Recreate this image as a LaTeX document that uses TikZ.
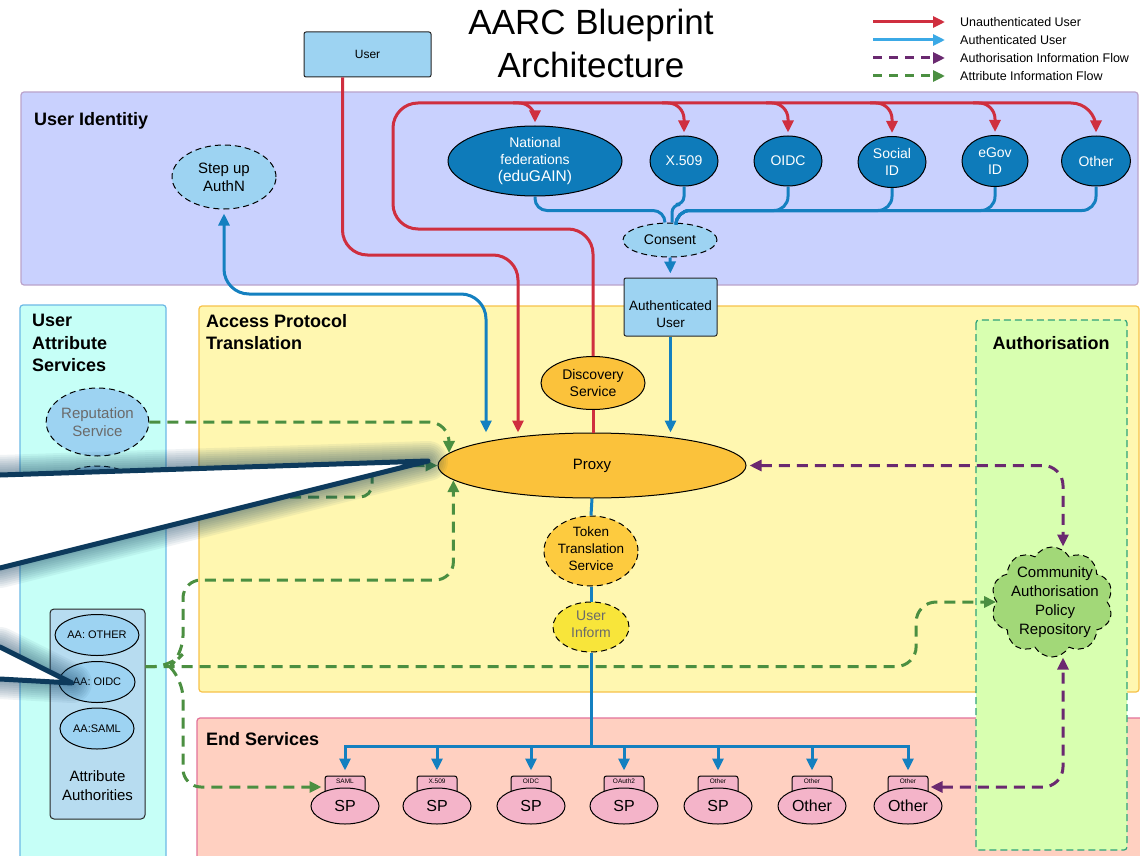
\documentclass[tikz,border=0pt]{standalone}
\usepackage{fontspec}
\setmainfont{Liberation Sans}
\usetikzlibrary{arrows.meta,shapes.geometric,shapes.symbols,calc}
\newcommand{\myfs}[2]{\fontsize{#1}{#2}\selectfont}
\definecolor{idbg}{HTML}{C9D1FE}
\definecolor{idbd}{HTML}{BBA3CB}
\definecolor{cybg}{HTML}{C6FFF7}
\definecolor{cybd}{HTML}{6DB9E6}
\definecolor{yebg}{HTML}{FFF7B0}
\definecolor{yebd}{HTML}{F7C24A}
\definecolor{esbg}{HTML}{FFD0C1}
\definecolor{esbd}{HTML}{E2739A}
\definecolor{aubg}{HTML}{D8FFB0}
\definecolor{aubd}{HTML}{2FA27A}
\definecolor{idpf}{HTML}{0E7BBA}
\definecolor{ltblue}{HTML}{9DD3F2}
\definecolor{orng}{HTML}{FBC23B}
\definecolor{ttsc}{HTML}{FDCB3F}
\definecolor{uinfc}{HTML}{F8E53A}
\definecolor{spf}{HTML}{F4B4C9}
\definecolor{cldf}{HTML}{A2D878}
\definecolor{aabox}{HTML}{B7DCF0}
\definecolor{redc}{HTML}{CF2F3F}
\definecolor{bluc}{HTML}{1480C0}
\definecolor{lblu}{HTML}{3BA9E6}
\definecolor{purc}{HTML}{6A2970}
\definecolor{grnc}{HTML}{4B8F41}
\definecolor{wedgec}{HTML}{0D3A5C}
\definecolor{graytext}{HTML}{6A6A6A}
\begin{document}
\begin{tikzpicture}[x=1pt,y=-1pt,
  region/.style={line width=1.2pt, rounded corners=3pt},
  rtitle/.style={font=\bfseries\myfs{18}{22.5}, align=left, inner sep=0pt},
  ell/.style={ellipse, draw=black, line width=1pt, inner sep=0pt, align=center},
  dashell/.style={ell, dash pattern=on 6pt off 4pt},
  idp/.style={ell, fill=idpf, text=white, font=\myfs{14}{17}},
  arr/.style={-{Triangle[length=12pt,width=11pt]}},
  darr/.style={{Triangle[length=12pt,width=11pt]}-{Triangle[length=12pt,width=11pt]}},
  redline/.style={draw=redc, line width=3pt},
  blueline/.style={draw=bluc, line width=3pt},
  greendash/.style={draw=grnc, line width=3pt, dash pattern=on 11pt off 7pt},
  purpledash/.style={draw=purc, line width=3pt, dash pattern=on 11pt off 7pt},
  sptab/.style={draw=black, line width=1pt, fill=spf, rounded corners=2.5pt, minimum width=40pt, minimum height=18pt, inner sep=0pt, font=\myfs{6.5}{7}, text height=5pt, text depth=8pt},
  spell/.style={ell, fill=spf, minimum width=68pt, minimum height=36pt, font=\myfs{16}{18}},
  lgtext/.style={anchor=west, font=\myfs{12.5}{14}, inner sep=0pt},
  boxnode/.style={draw=black!85, line width=1pt, fill=ltblue, rounded corners=2pt, inner sep=0pt, align=center}
]
\useasboundingbox (0,0) rectangle (1140,856);
\fill[white] (0,0) rectangle (1140,856);

% regions
\draw[region, draw=idbd, fill=idbg] (21,92) rectangle (1138,285);
\draw[region, draw=cybd, fill=cybg] (20,305) rectangle (166,880);
\draw[region, draw=yebd, fill=yebg] (199,306) rectangle (1139,692);
\draw[region, draw=esbd, fill=esbg] (197,718) rectangle (1160,880);
\draw[line width=1.2pt, draw=aubd, fill=aubg, dash pattern=on 7pt off 4pt, rounded corners=3pt] (976,320) rectangle (1127,850);

\node[rtitle, anchor=west] (tid) at (34,121) {User Identitiy};
\node[rtitle, anchor=north west] (tuas) at (32,314) {User\\Attribute\\Services};
\node[rtitle, anchor=north west] (tapt) at (206,314) {Access Protocol\\Translation};
\node[rtitle, anchor=west] (tes) at (206,739) {End Services};
\node[rtitle] (tau) at (1051,343) {Authorisation};

% title
\node[font=\myfs{35}{43}, align=center, inner sep=0pt] (title) at (591,43) {AARC Blueprint\\Architecture};

% legend
\node[lgtext] (lg1) at (960,22) {Unauthenticated User};
\node[lgtext] (lg2) at (960,40) {Authenticated User};
\node[lgtext] (lg3) at (960,58) {Authorisation Information Flow};
\node[lgtext] (lg4) at (960,76) {Attribute Information Flow};
\draw[redline, arr] ($(lg1.west)+(-87,0)$) -- ($(lg1.west)+(-15,0)$);
\draw[blueline, draw=lblu, arr] ($(lg2.west)+(-87,0)$) -- ($(lg2.west)+(-15,0)$);
\draw[purpledash, dash pattern=on 9pt off 7pt, arr] ($(lg3.west)+(-87,0)$) -- ($(lg3.west)+(-15,0)$);
\draw[greendash, dash pattern=on 9pt off 7pt, arr] ($(lg4.west)+(-87,0)$) -- ($(lg4.west)+(-15,0)$);

% user
\node[boxnode, minimum width=127pt, minimum height=45pt, font=\myfs{12}{14}] (user) at (367.5,54.5) {User};

% identity providers
\node[idp, minimum width=174pt, minimum height=70pt] (nf) at (535,161) {National\\federations\\{\myfs{15.5}{17}(eduGAIN)}};
\node[idp, minimum width=68pt, minimum height=50pt] (x509) at (684,161) {X.509};
\node[idp, minimum width=68pt, minimum height=50pt] (oidc) at (788,161) {OIDC};
\node[idp, minimum width=68pt, minimum height=51pt] (soc) at (892,162) {Social\\ID};
\node[idp, minimum width=66pt, minimum height=51pt] (egov) at (995,161) {eGov\\ID};
\node[idp, minimum width=69pt, minimum height=50pt] (oth) at (1096,161) {Other};

\node[dashell, fill=ltblue, minimum width=94pt, minimum height=34pt, font=\myfs{14}{16}] (con) at (670,240) {Consent};
\node[boxnode, minimum width=93pt, minimum height=58pt,
  label={[font=\myfs{13.5}{16.5}, align=center, yshift=-7pt]center:{Authenticated\\User}}] (auth) at (670.5,307) {};
\node[dashell, fill=ltblue, minimum width=104pt, minimum height=64pt, font=\myfs{15}{18}] (stepup) at (224,177) {Step up\\AuthN};

% access protocol translation
\node[ell, fill=orng, minimum width=104pt, minimum height=53pt, font=\myfs{14}{17}] (disc) at (593,383) {Discovery\\Service};
\node[ell, fill=orng, minimum width=308pt, minimum height=65pt, font=\myfs{15}{18}] (prx) at (592,465.5) {Proxy};
\node[dashell, fill=ttsc, minimum width=94pt, minimum height=70pt,
  label={[font=\myfs{13.5}{17}, align=center, yshift=2pt]center:{Token\\Translation\\Service}}] (tts) at (591,551) {};
\node[dashell, fill=uinfc, minimum width=76pt, minimum height=50pt,
  label={[font=\myfs{14}{17}, align=center, text=graytext, yshift=3pt]center:{User\\Inform}}] (uinf) at (591,627) {};

% attribute services
\node[dashell, fill=ltblue, minimum width=96pt, minimum height=68pt, font=\myfs{15}{18}, text=graytext] (rep) at (97.5,422) {Reputation\\Service};
\node[dashell, fill=ltblue, minimum width=96pt, minimum height=62pt] (hid) at (97.5,497) {};
\node[draw=black!85, line width=1pt, fill=aabox, rounded corners=4pt, minimum width=95pt, minimum height=210pt, inner sep=0pt] (aa) at (97.5,714) {};
\node[ell, fill=ltblue, minimum width=78pt, minimum height=41pt, font=\myfs{11}{13}] (aaoth) at (97,635) {AA: OTHER};
\node[ell, fill=ltblue, minimum width=76pt, minimum height=41pt, font=\myfs{11}{13}] (aaoidc) at (97,682) {AA: OIDC};
\node[ell, fill=ltblue, minimum width=74pt, minimum height=41pt, font=\myfs{11}{13}] (aasaml) at (97,728.5) {AA:SAML};
\node[font=\myfs{15}{19}, align=center, inner sep=0pt] (aalbl) at (97.5,786) {Attribute\\Authorities};
\coordinate (aaout) at ($(aa.north east)+(0,58)$);

% authorisation
\node[cloud, cloud puffs=10, cloud puff arc=120, draw=black, line width=1pt, dash pattern=on 6pt off 4pt, fill=cldf, minimum width=122pt, minimum height=110pt, inner sep=0pt,
  label={[font=\myfs{15}{19}, align=center, xshift=3pt]center:{Community\\Authorisation\\Policy\\Repository}}] (cloud) at (1052,602) {};

% end services
\foreach \i/\x/\t/\s in {1/345/SAML/SP, 2/437/X.509/SP, 3/531/OIDC/SP, 4/624/OAuth2/SP, 5/718/Other/SP, 6/812/Other/Other, 7/908/Other/Other} {
  \node[sptab] (tab\i) at (\x,785) {\t};
  \node[spell] (sp\i) at (\x,806) {\s};
}

% ---- connectors ----
% unauthenticated (red)
\draw[redline, arr, rounded corners=25pt] ($(user.south west)+(39,0)$) |- (518,255) -- (518,0 |- prx.north);
\draw[redline] (disc.south) -- (disc.south |- prx.north);
\draw[redline, arr, rounded corners=25pt, shorten >=3pt] (disc.north) -- (disc.north |- 0,229) -- (393,229) -- (393,103) -| (oth.north);
\foreach \n in {nf,x509,oidc,soc,egov} {
  \draw[redline, arr, rounded corners=16pt, shorten >=3pt] ($(\n.north |- 0,103)+(-22,0)$) -| (\n.north);
}

% authenticated (blue)
\draw[blueline, rounded corners=12pt] (nf.south) |- ($(con.north)+(-5,-12)$) -- ($(con.north)+(-5,0)$);
\draw[blueline, rounded corners=8pt] (x509.south) -- ($(x509.south)+(0,18)$) -| ($(con.north)+(2,0)$);
\foreach \n in {oidc,soc,egov,oth} {
  \draw[blueline, rounded corners=14pt] (\n.south) |- ($(con.north)+(6,-12)$) -- ($(con.north)+(6,0)$);
}
\draw[blueline, arr, shorten >=4pt] (con.south) -- (auth.north);
\draw[blueline, arr] (auth.south) -- (auth.south |- prx.north);
\draw[blueline, darr, rounded corners=25pt, shorten <=4pt] (stepup.south) |- (486,294) -- (486,0 |- prx.north);
\draw[blueline] (prx.south) -- (tts.north);
\draw[blueline] (tts.south) -- (uinf.north);
\draw[blueline] (uinf.south) -- (uinf.south |- 0,746);
\draw[blueline, line cap=rect] (tab1.north |- 0,746) -- (tab7.north |- 0,746);
\foreach \i in {1,...,7} {
  \draw[blueline, arr, shorten >=5pt] (tab\i.north |- 0,746) -- (tab\i.north);
}

% attribute information (green)
\draw[greendash, arr, rounded corners=20pt] (rep.east) -| (prx.175);
\draw[greendash, arr, rounded corners=12pt] (hid.east) -- (372,497) -- (372,466) -- (prx.west);
\draw[greendash, arr, rounded corners=18pt] (aaout) -- (170,667) -- (183,654) |- (prx.186 |- 0,580) -- (prx.186);
\draw[greendash, arr, rounded corners=18pt, shorten >=3pt] (170,667) -- (183,680) |- ($(tab1.west)+(0,2)$);
\draw[greendash, arr, rounded corners=20pt] (aaout) -| ($(cloud.west)+(-80,0)$) -- (cloud.west);

% authorisation information (purple)
\draw[purpledash, darr, rounded corners=20pt, shorten <=3pt] (prx.east) -| ($(cloud.north)+(11,0)$);
\draw[purpledash, darr, rounded corners=20pt, shorten <=2pt] ($(tab7.east)+(0,2)$) -| ($(cloud.south)+(11,0)$);

% ---- callout wedges ----
\foreach \w in {40,36,...,8} {
  \draw[draw=wedgec, line width=\w pt, opacity=0.06, line join=round, line cap=round] (0,475) -- (428,461) -- (0,568);
  \draw[draw=wedgec, line width=\w pt, opacity=0.06, line join=round, line cap=round] (0,647) -- (72,683) -- (0,679);
}
\fill[white] (0,475) -- (428,461) -- (0,568) -- cycle;
\fill[white] (0,647) -- (72,683) -- (0,679) -- cycle;
\draw[draw=wedgec, line width=5pt, line join=round, line cap=round] (0,475) -- (428,461) -- (0,568);
\draw[draw=wedgec, line width=5pt, line join=round, line cap=round] (0,647) -- (72,683) -- (0,679);
\end{tikzpicture}
\end{document}
